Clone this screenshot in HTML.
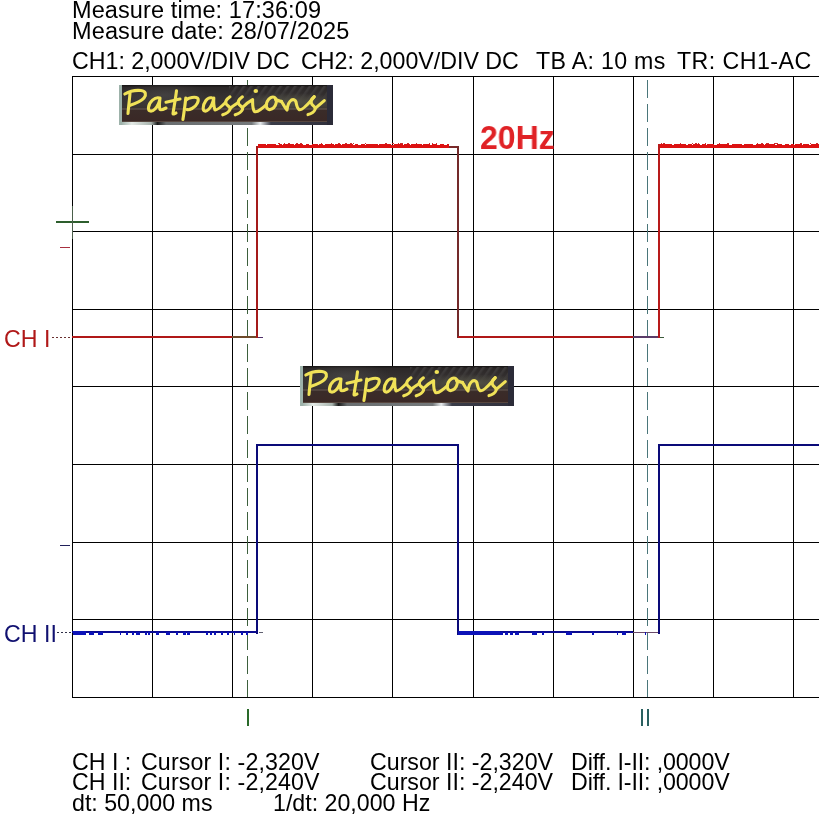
<!DOCTYPE html>
<html><head><meta charset="utf-8"><style>
html,body{margin:0;padding:0;background:#fff;width:821px;height:814px;overflow:hidden;position:relative;-webkit-font-smoothing:antialiased}
.t{position:absolute;font-family:"Liberation Sans",sans-serif;white-space:pre;line-height:1;will-change:transform}
</style></head><body>
<svg width="821" height="814" style="position:absolute;left:0;top:0" shape-rendering="crispEdges"><rect x="72" y="76" width="1" height="622" fill="#000"/><rect x="152" y="76" width="1" height="622" fill="#000"/><rect x="232" y="76" width="1" height="622" fill="#000"/><rect x="312" y="76" width="1" height="622" fill="#000"/><rect x="392" y="76" width="1" height="622" fill="#000"/><rect x="473" y="76" width="1" height="622" fill="#000"/><rect x="553" y="76" width="1" height="622" fill="#000"/><rect x="633" y="76" width="1" height="622" fill="#000"/><rect x="713" y="76" width="1" height="622" fill="#000"/><rect x="793" y="76" width="1" height="622" fill="#000"/><rect x="72" y="76" width="747" height="1" fill="#000"/><rect x="72" y="154" width="747" height="1" fill="#000"/><rect x="72" y="231" width="747" height="1" fill="#000"/><rect x="72" y="309" width="747" height="1" fill="#000"/><rect x="72" y="386" width="747" height="1" fill="#000"/><rect x="72" y="464" width="747" height="1" fill="#000"/><rect x="72" y="542" width="747" height="1" fill="#000"/><rect x="72" y="619" width="747" height="1" fill="#000"/><rect x="72" y="697" width="747" height="1" fill="#000"/><rect x="247" y="80" width="1" height="18" fill="#3d603d"/><rect x="247" y="104" width="1" height="18" fill="#3d603d"/><rect x="247" y="128" width="1" height="18" fill="#3d603d"/><rect x="247" y="152" width="1" height="18" fill="#3d603d"/><rect x="247" y="176" width="1" height="18" fill="#3d603d"/><rect x="247" y="200" width="1" height="18" fill="#3d603d"/><rect x="247" y="224" width="1" height="18" fill="#3d603d"/><rect x="247" y="248" width="1" height="18" fill="#3d603d"/><rect x="247" y="272" width="1" height="18" fill="#3d603d"/><rect x="247" y="296" width="1" height="18" fill="#3d603d"/><rect x="247" y="320" width="1" height="18" fill="#3d603d"/><rect x="247" y="344" width="1" height="18" fill="#3d603d"/><rect x="247" y="368" width="1" height="18" fill="#3d603d"/><rect x="247" y="392" width="1" height="18" fill="#3d603d"/><rect x="247" y="416" width="1" height="18" fill="#3d603d"/><rect x="247" y="440" width="1" height="18" fill="#3d603d"/><rect x="247" y="464" width="1" height="18" fill="#3d603d"/><rect x="247" y="488" width="1" height="18" fill="#3d603d"/><rect x="247" y="512" width="1" height="18" fill="#3d603d"/><rect x="247" y="536" width="1" height="18" fill="#3d603d"/><rect x="247" y="560" width="1" height="18" fill="#3d603d"/><rect x="247" y="584" width="1" height="18" fill="#3d603d"/><rect x="247" y="608" width="1" height="18" fill="#3d603d"/><rect x="247" y="632" width="1" height="18" fill="#3d603d"/><rect x="247" y="656" width="1" height="18" fill="#3d603d"/><rect x="247" y="680" width="1" height="17" fill="#3d603d"/><rect x="647" y="80" width="1" height="18" fill="#4a767a"/><rect x="647" y="104" width="1" height="18" fill="#4a767a"/><rect x="647" y="128" width="1" height="18" fill="#4a767a"/><rect x="647" y="152" width="1" height="18" fill="#4a767a"/><rect x="647" y="176" width="1" height="18" fill="#4a767a"/><rect x="647" y="200" width="1" height="18" fill="#4a767a"/><rect x="647" y="224" width="1" height="18" fill="#4a767a"/><rect x="647" y="248" width="1" height="18" fill="#4a767a"/><rect x="647" y="272" width="1" height="18" fill="#4a767a"/><rect x="647" y="296" width="1" height="18" fill="#4a767a"/><rect x="647" y="320" width="1" height="18" fill="#4a767a"/><rect x="647" y="344" width="1" height="18" fill="#4a767a"/><rect x="647" y="368" width="1" height="18" fill="#4a767a"/><rect x="647" y="392" width="1" height="18" fill="#4a767a"/><rect x="647" y="416" width="1" height="18" fill="#4a767a"/><rect x="647" y="440" width="1" height="18" fill="#4a767a"/><rect x="647" y="464" width="1" height="18" fill="#4a767a"/><rect x="647" y="488" width="1" height="18" fill="#4a767a"/><rect x="647" y="512" width="1" height="18" fill="#4a767a"/><rect x="647" y="536" width="1" height="18" fill="#4a767a"/><rect x="647" y="560" width="1" height="18" fill="#4a767a"/><rect x="647" y="584" width="1" height="18" fill="#4a767a"/><rect x="647" y="608" width="1" height="18" fill="#4a767a"/><rect x="647" y="632" width="1" height="18" fill="#4a767a"/><rect x="647" y="656" width="1" height="18" fill="#4a767a"/><rect x="647" y="680" width="1" height="17" fill="#4a767a"/><rect x="72" y="336" width="186" height="2" fill="#b01818"/><rect x="232" y="336" width="24" height="2" fill="#6e4a2a"/><rect x="258" y="337" width="5" height="1" fill="#50306a"/><rect x="256" y="146" width="2" height="192" fill="#a41a1a"/><rect x="258" y="145" width="191" height="3" fill="#dc1212"/><rect x="449" y="146" width="9" height="2" fill="#7a2a2a"/><rect x="457" y="146" width="2" height="192" fill="#742a2a"/><rect x="458" y="336" width="202" height="2" fill="#b01818"/><rect x="633" y="336" width="25" height="2" fill="#5a3c68"/><rect x="660" y="337" width="4" height="1" fill="#3a5a3a"/><rect x="658" y="144" width="2" height="194" fill="#b81a1a"/><rect x="660" y="145" width="159" height="3" fill="#dc1212"/><rect x="258" y="144" width="8" height="1" fill="#dc1212"/><rect x="267" y="144" width="9" height="1" fill="#dc1212"/><rect x="279" y="144" width="3" height="1" fill="#dc1212"/><rect x="283" y="144" width="11" height="1" fill="#dc1212"/><rect x="295" y="144" width="8" height="1" fill="#dc1212"/><rect x="306" y="144" width="3" height="1" fill="#dc1212"/><rect x="312" y="144" width="6" height="1" fill="#dc1212"/><rect x="319" y="144" width="4" height="1" fill="#dc1212"/><rect x="325" y="144" width="9" height="1" fill="#dc1212"/><rect x="335" y="144" width="6" height="1" fill="#dc1212"/><rect x="342" y="144" width="11" height="1" fill="#dc1212"/><rect x="355" y="144" width="3" height="1" fill="#dc1212"/><rect x="361" y="144" width="4" height="1" fill="#dc1212"/><rect x="366" y="144" width="12" height="1" fill="#dc1212"/><rect x="379" y="144" width="12" height="1" fill="#dc1212"/><rect x="394" y="144" width="9" height="1" fill="#dc1212"/><rect x="404" y="144" width="6" height="1" fill="#dc1212"/><rect x="411" y="144" width="11" height="1" fill="#dc1212"/><rect x="423" y="144" width="7" height="1" fill="#dc1212"/><rect x="432" y="144" width="5" height="1" fill="#dc1212"/><rect x="440" y="144" width="4" height="1" fill="#dc1212"/><rect x="447" y="144" width="2" height="1" fill="#dc1212"/><rect x="432" y="143" width="1" height="1" fill="#c83030"/><rect x="284" y="143" width="1" height="1" fill="#c83030"/><rect x="353" y="143" width="1" height="1" fill="#c83030"/><rect x="398" y="143" width="1" height="1" fill="#c83030"/><rect x="402" y="143" width="1" height="1" fill="#c83030"/><rect x="416" y="143" width="1" height="1" fill="#c83030"/><rect x="385" y="143" width="2" height="1" fill="#c83030"/><rect x="338" y="143" width="2" height="1" fill="#c83030"/><rect x="407" y="143" width="2" height="1" fill="#c83030"/><rect x="350" y="143" width="2" height="1" fill="#c83030"/><rect x="321" y="143" width="1" height="1" fill="#c83030"/><rect x="436" y="143" width="1" height="1" fill="#c83030"/><rect x="278" y="143" width="2" height="1" fill="#c83030"/><rect x="392" y="143" width="2" height="1" fill="#c83030"/><rect x="345" y="143" width="2" height="1" fill="#c83030"/><rect x="331" y="143" width="1" height="1" fill="#c83030"/><rect x="288" y="143" width="2" height="1" fill="#c83030"/><rect x="300" y="143" width="2" height="1" fill="#c83030"/><rect x="296" y="143" width="2" height="1" fill="#c83030"/><rect x="365" y="143" width="1" height="1" fill="#c83030"/><rect x="429" y="143" width="1" height="1" fill="#c83030"/><rect x="400" y="143" width="2" height="1" fill="#c83030"/><rect x="345" y="143" width="2" height="1" fill="#c83030"/><rect x="660" y="144" width="12" height="1" fill="#dc1212"/><rect x="674" y="144" width="12" height="1" fill="#dc1212"/><rect x="688" y="144" width="4" height="1" fill="#dc1212"/><rect x="693" y="144" width="7" height="1" fill="#dc1212"/><rect x="702" y="144" width="4" height="1" fill="#dc1212"/><rect x="707" y="144" width="7" height="1" fill="#dc1212"/><rect x="717" y="144" width="12" height="1" fill="#dc1212"/><rect x="732" y="144" width="10" height="1" fill="#dc1212"/><rect x="744" y="144" width="9" height="1" fill="#dc1212"/><rect x="756" y="144" width="8" height="1" fill="#dc1212"/><rect x="765" y="144" width="10" height="1" fill="#dc1212"/><rect x="777" y="144" width="5" height="1" fill="#dc1212"/><rect x="785" y="144" width="4" height="1" fill="#dc1212"/><rect x="791" y="144" width="3" height="1" fill="#dc1212"/><rect x="795" y="144" width="7" height="1" fill="#dc1212"/><rect x="803" y="144" width="6" height="1" fill="#dc1212"/><rect x="811" y="144" width="8" height="1" fill="#dc1212"/><rect x="680" y="143" width="1" height="1" fill="#c83030"/><rect x="774" y="143" width="2" height="1" fill="#c83030"/><rect x="800" y="143" width="2" height="1" fill="#c83030"/><rect x="695" y="143" width="2" height="1" fill="#c83030"/><rect x="800" y="143" width="2" height="1" fill="#c83030"/><rect x="766" y="143" width="2" height="1" fill="#c83030"/><rect x="757" y="143" width="1" height="1" fill="#c83030"/><rect x="698" y="143" width="1" height="1" fill="#c83030"/><rect x="705" y="143" width="1" height="1" fill="#c83030"/><rect x="719" y="143" width="1" height="1" fill="#c83030"/><rect x="663" y="143" width="2" height="1" fill="#c83030"/><rect x="810" y="143" width="1" height="1" fill="#c83030"/><rect x="727" y="143" width="2" height="1" fill="#c83030"/><rect x="661" y="143" width="1" height="1" fill="#c83030"/><rect x="767" y="143" width="2" height="1" fill="#c83030"/><rect x="816" y="143" width="2" height="1" fill="#c83030"/><rect x="692" y="143" width="1" height="1" fill="#c83030"/><rect x="776" y="143" width="2" height="1" fill="#c83030"/><rect x="761" y="143" width="2" height="1" fill="#c83030"/><rect x="72" y="631" width="186" height="2" fill="#0a0a90"/><rect x="73" y="631" width="13" height="4" fill="#0c12b8"/><rect x="256" y="444" width="2" height="190" fill="#0a0a78"/><rect x="258" y="444" width="200" height="2" fill="#0a0a78"/><rect x="457" y="444" width="2" height="191" fill="#0a0a78"/><rect x="458" y="631" width="175" height="2" fill="#0a0a90"/><rect x="458" y="631" width="42" height="4" fill="#0c12b8"/><rect x="633" y="632" width="26" height="1" fill="#6a4a6a"/><rect x="658" y="444" width="2" height="190" fill="#0a0a78"/><rect x="660" y="444" width="159" height="2" fill="#0a0a78"/><rect x="259" y="632" width="4" height="1" fill="#606070"/><rect x="89" y="632" width="5" height="3" fill="#0c12b8"/><rect x="98" y="632" width="5" height="3" fill="#0c12b8"/><rect x="120" y="632" width="1" height="3" fill="#0c12b8"/><rect x="126" y="632" width="2" height="3" fill="#0c12b8"/><rect x="132" y="632" width="2" height="3" fill="#0c12b8"/><rect x="136" y="632" width="4" height="3" fill="#0c12b8"/><rect x="145" y="632" width="2" height="3" fill="#0c12b8"/><rect x="148" y="632" width="2" height="3" fill="#0c12b8"/><rect x="156" y="632" width="3" height="3" fill="#0c12b8"/><rect x="166" y="632" width="4" height="3" fill="#0c12b8"/><rect x="176" y="632" width="2" height="3" fill="#0c12b8"/><rect x="183" y="632" width="3" height="3" fill="#0c12b8"/><rect x="187" y="632" width="3" height="3" fill="#0c12b8"/><rect x="206" y="632" width="2" height="3" fill="#0c12b8"/><rect x="210" y="632" width="2" height="3" fill="#0c12b8"/><rect x="214" y="632" width="2" height="3" fill="#0c12b8"/><rect x="221" y="632" width="2" height="3" fill="#0c12b8"/><rect x="227" y="632" width="2" height="3" fill="#0c12b8"/><rect x="234" y="632" width="1" height="3" fill="#0c12b8"/><rect x="241" y="632" width="2" height="3" fill="#0c12b8"/><rect x="246" y="632" width="2" height="3" fill="#0c12b8"/><rect x="500" y="632" width="3" height="3" fill="#0c12b8"/><rect x="505" y="632" width="3" height="3" fill="#0c12b8"/><rect x="510" y="632" width="3" height="3" fill="#0c12b8"/><rect x="515" y="632" width="4" height="3" fill="#0c12b8"/><rect x="532" y="632" width="5" height="3" fill="#0c12b8"/><rect x="542" y="632" width="2" height="3" fill="#0c12b8"/><rect x="566" y="632" width="6" height="3" fill="#0c12b8"/><rect x="592" y="632" width="2" height="3" fill="#0c12b8"/><rect x="617" y="632" width="1" height="3" fill="#0c12b8"/><rect x="622" y="632" width="4" height="3" fill="#0c12b8"/><rect x="645" y="632" width="1" height="3" fill="#0c12b8"/><rect x="56" y="221" width="33" height="2" fill="#2d5e2d"/><rect x="72" y="206" width="1" height="33" fill="#4a5e4a"/><rect x="60" y="247" width="10" height="1" fill="#a83040"/><rect x="60" y="545" width="10" height="1" fill="#20205a"/><rect x="52" y="337" width="2" height="1" fill="#6a3030"/><rect x="56" y="337" width="2" height="1" fill="#6a3030"/><rect x="60" y="337" width="2" height="1" fill="#6a3030"/><rect x="64" y="337" width="2" height="1" fill="#6a3030"/><rect x="68" y="337" width="2" height="1" fill="#6a3030"/><rect x="57" y="632" width="2" height="1" fill="#303048"/><rect x="61" y="632" width="2" height="1" fill="#303048"/><rect x="65" y="632" width="2" height="1" fill="#303048"/><rect x="69" y="632" width="2" height="1" fill="#303048"/><rect x="247" y="709" width="2" height="17" fill="#2a6a2a"/><rect x="641" y="709" width="2" height="17" fill="#2a6060"/><rect x="647" y="709" width="2" height="17" fill="#2a6060"/></svg>
<svg class="logo" width="214" height="40" viewBox="0 0 214 40" style="position:absolute;left:119px;top:85px">
<defs>
<linearGradient id="k1lgbg" x1="0" y1="0" x2="0" y2="1">
<stop offset="0" stop-color="#141212"/><stop offset="0.06" stop-color="#2c2828"/><stop offset="0.3" stop-color="#353131"/>
<stop offset="0.55" stop-color="#3a3532"/><stop offset="0.62" stop-color="#3a2c29"/>
<stop offset="1" stop-color="#3a2725"/></linearGradient>
<linearGradient id="k1lgbot" x1="0" y1="0" x2="1" y2="0">
<stop offset="0" stop-color="#8ea49c"/><stop offset="0.06" stop-color="#e4eae6"/><stop offset="0.15" stop-color="#a8b4ae"/>
<stop offset="0.18" stop-color="#1a1a1a"/><stop offset="0.22" stop-color="#6a6e70"/><stop offset="0.62" stop-color="#74787a"/>
<stop offset="0.66" stop-color="#e8ecee"/><stop offset="0.71" stop-color="#3a3c48"/><stop offset="1" stop-color="#30303c"/></linearGradient>
<radialGradient id="k1lgmid" cx="0.5" cy="0.5" r="0.5"><stop offset="0" stop-color="#5c5c4c" stop-opacity="0.75"/><stop offset="1" stop-color="#5c5c4c" stop-opacity="0"/></radialGradient>
<radialGradient id="k1lgtl" cx="0.5" cy="0.5" r="0.5"><stop offset="0" stop-color="#4a4848" stop-opacity="0.7"/><stop offset="1" stop-color="#4a4848" stop-opacity="0"/></radialGradient>
<pattern id="k1lgstr" width="6" height="6" patternUnits="userSpaceOnUse" patternTransform="rotate(35)"><rect width="2.5" height="6" fill="#484646"/></pattern>
<linearGradient id="k1lgfade" x1="0" y1="0" x2="0" y2="1"><stop offset="0" stop-color="#fff" stop-opacity="1"/><stop offset="1" stop-color="#fff" stop-opacity="0"/></linearGradient>
<mask id="k1lgmask"><rect x="0" y="0" width="214" height="22" fill="url(#k1lgfade)"/></mask>
</defs>
<rect x="0" y="0" width="214" height="40" fill="url(#k1lgbg)"/>
<rect x="110" y="1" width="98" height="22" fill="url(#k1lgstr)" opacity="0.7" mask="url(#k1lgmask)"/>
<ellipse cx="45" cy="10" rx="45" ry="14" fill="url(#k1lgtl)"/>
<ellipse cx="170" cy="17" rx="60" ry="9" fill="url(#k1lgmid)"/>
<rect x="3" y="23.5" width="205" height="1" fill="#8a8274" opacity="0.55"/>
<rect x="3" y="36" width="205" height="1" fill="#6a5a50" opacity="0.6"/>
<rect x="0" y="37" width="214" height="3" fill="url(#k1lgbot)"/>
<rect x="0" y="0" width="3" height="40" fill="#9db2aa"/>
<rect x="208" y="0" width="6" height="40" fill="#2b2b38"/>
<g fill="none" stroke="#f0e258" stroke-width="3.1" stroke-linecap="round" stroke-linejoin="round">
<path d="M5.8,9 C10,6.5 17,5 22,5.5 C27,6 27.5,10 25,13 C22,16.5 15,19 10.5,20.5"/>
<path d="M11,8 C10.5,15 9.5,22 9,28.5"/>
<path d="M40.5,13 C36,11.5 30,17 29.5,22.5 C29,27 33,27 36,24 C38.5,21.5 40.5,17 41,13 C40.5,17 40,22 41,24.5 C42,25.5 45,24 47,23"/>
<path d="M57.5,5.8 C56.5,14 55,22 54,28.5 C54,29.5 55.5,29 57,28"/>
<path d="M47,17.2 C52,16.2 57,14.8 61,14"/>
<path d="M66.8,13 C66,20 65,28 63.9,34.5"/>
<path d="M67,15 C70,12.5 76,11.5 78.5,13 C80.5,15 78,21 73,23.5 C71,24.5 69,25 68,24.5"/>
<path d="M92.5,12.8 C88,12 84.5,18 84.2,23 C84,26.5 87,27 89.5,24.5 C92,22 94,17 94.8,13 C94.5,17 94.8,22 96,24.8 C97.5,25.5 101,23 106.5,17.5"/>
<path d="M111,11.8 C108.5,13.5 106,16 107,18.5 C108,21 112,22 111,24.5 C110,27 106,29 103.7,29.8"/>
<path d="M111.5,23 C114,21 117,19 119.3,17.5"/>
<path d="M123.4,11.8 C121,13.5 118.5,16 119.5,18.5 C120.5,21 124.5,22 123.5,24.5 C122.5,27 118.5,29 116.2,29.8"/>
<path d="M124,22 C127,19 131,16 133.6,14.6 C133.5,19 133.5,24 135.5,26.5 C137,27.5 139.5,26 141.5,24.5 C143.5,23 145.5,21.5 147.5,19.5"/>
<ellipse cx="152.3" cy="18.3" rx="4.5" ry="6.7" transform="rotate(28 152.3 18.3)"/>
<path d="M156.5,14.5 C158.5,15.5 160.5,16 162.5,16.4"/>
<path d="M162.5,16.4 C164,19 166,23 168,25 C168.5,21 170,16.5 172.5,15 C174.5,14 176.5,15 177,17 C177.5,19.5 178,23 180,24.5 C182,25.5 186,23 195.2,11.7"/>
<path d="M195.2,11.7 C193,13.5 191.5,16 192.5,18.5 C193.5,21 197,21.5 196,24.5 C195,27 191.5,29 189,29.6"/>
<path d="M196.5,23 C199,21 202.5,18 205.3,15.6"/>
</g>
<ellipse cx="136.8" cy="6" rx="2.3" ry="1.9" fill="#f0e258"/>
</svg><svg class="logo" width="214" height="40" viewBox="0 0 214 40" style="position:absolute;left:300px;top:366px">
<defs>
<linearGradient id="k2lgbg" x1="0" y1="0" x2="0" y2="1">
<stop offset="0" stop-color="#141212"/><stop offset="0.06" stop-color="#2c2828"/><stop offset="0.3" stop-color="#353131"/>
<stop offset="0.55" stop-color="#3a3532"/><stop offset="0.62" stop-color="#3a2c29"/>
<stop offset="1" stop-color="#3a2725"/></linearGradient>
<linearGradient id="k2lgbot" x1="0" y1="0" x2="1" y2="0">
<stop offset="0" stop-color="#8ea49c"/><stop offset="0.06" stop-color="#e4eae6"/><stop offset="0.15" stop-color="#a8b4ae"/>
<stop offset="0.18" stop-color="#1a1a1a"/><stop offset="0.22" stop-color="#6a6e70"/><stop offset="0.62" stop-color="#74787a"/>
<stop offset="0.66" stop-color="#e8ecee"/><stop offset="0.71" stop-color="#3a3c48"/><stop offset="1" stop-color="#30303c"/></linearGradient>
<radialGradient id="k2lgmid" cx="0.5" cy="0.5" r="0.5"><stop offset="0" stop-color="#5c5c4c" stop-opacity="0.75"/><stop offset="1" stop-color="#5c5c4c" stop-opacity="0"/></radialGradient>
<radialGradient id="k2lgtl" cx="0.5" cy="0.5" r="0.5"><stop offset="0" stop-color="#4a4848" stop-opacity="0.7"/><stop offset="1" stop-color="#4a4848" stop-opacity="0"/></radialGradient>
<pattern id="k2lgstr" width="6" height="6" patternUnits="userSpaceOnUse" patternTransform="rotate(35)"><rect width="2.5" height="6" fill="#484646"/></pattern>
<linearGradient id="k2lgfade" x1="0" y1="0" x2="0" y2="1"><stop offset="0" stop-color="#fff" stop-opacity="1"/><stop offset="1" stop-color="#fff" stop-opacity="0"/></linearGradient>
<mask id="k2lgmask"><rect x="0" y="0" width="214" height="22" fill="url(#k2lgfade)"/></mask>
</defs>
<rect x="0" y="0" width="214" height="40" fill="url(#k2lgbg)"/>
<rect x="110" y="1" width="98" height="22" fill="url(#k2lgstr)" opacity="0.7" mask="url(#k2lgmask)"/>
<ellipse cx="45" cy="10" rx="45" ry="14" fill="url(#k2lgtl)"/>
<ellipse cx="170" cy="17" rx="60" ry="9" fill="url(#k2lgmid)"/>
<rect x="3" y="23.5" width="205" height="1" fill="#8a8274" opacity="0.55"/>
<rect x="3" y="36" width="205" height="1" fill="#6a5a50" opacity="0.6"/>
<rect x="0" y="37" width="214" height="3" fill="url(#k2lgbot)"/>
<rect x="0" y="0" width="3" height="40" fill="#9db2aa"/>
<rect x="208" y="0" width="6" height="40" fill="#2b2b38"/>
<g fill="none" stroke="#f0e258" stroke-width="3.1" stroke-linecap="round" stroke-linejoin="round">
<path d="M5.8,9 C10,6.5 17,5 22,5.5 C27,6 27.5,10 25,13 C22,16.5 15,19 10.5,20.5"/>
<path d="M11,8 C10.5,15 9.5,22 9,28.5"/>
<path d="M40.5,13 C36,11.5 30,17 29.5,22.5 C29,27 33,27 36,24 C38.5,21.5 40.5,17 41,13 C40.5,17 40,22 41,24.5 C42,25.5 45,24 47,23"/>
<path d="M57.5,5.8 C56.5,14 55,22 54,28.5 C54,29.5 55.5,29 57,28"/>
<path d="M47,17.2 C52,16.2 57,14.8 61,14"/>
<path d="M66.8,13 C66,20 65,28 63.9,34.5"/>
<path d="M67,15 C70,12.5 76,11.5 78.5,13 C80.5,15 78,21 73,23.5 C71,24.5 69,25 68,24.5"/>
<path d="M92.5,12.8 C88,12 84.5,18 84.2,23 C84,26.5 87,27 89.5,24.5 C92,22 94,17 94.8,13 C94.5,17 94.8,22 96,24.8 C97.5,25.5 101,23 106.5,17.5"/>
<path d="M111,11.8 C108.5,13.5 106,16 107,18.5 C108,21 112,22 111,24.5 C110,27 106,29 103.7,29.8"/>
<path d="M111.5,23 C114,21 117,19 119.3,17.5"/>
<path d="M123.4,11.8 C121,13.5 118.5,16 119.5,18.5 C120.5,21 124.5,22 123.5,24.5 C122.5,27 118.5,29 116.2,29.8"/>
<path d="M124,22 C127,19 131,16 133.6,14.6 C133.5,19 133.5,24 135.5,26.5 C137,27.5 139.5,26 141.5,24.5 C143.5,23 145.5,21.5 147.5,19.5"/>
<ellipse cx="152.3" cy="18.3" rx="4.5" ry="6.7" transform="rotate(28 152.3 18.3)"/>
<path d="M156.5,14.5 C158.5,15.5 160.5,16 162.5,16.4"/>
<path d="M162.5,16.4 C164,19 166,23 168,25 C168.5,21 170,16.5 172.5,15 C174.5,14 176.5,15 177,17 C177.5,19.5 178,23 180,24.5 C182,25.5 186,23 195.2,11.7"/>
<path d="M195.2,11.7 C193,13.5 191.5,16 192.5,18.5 C193.5,21 197,21.5 196,24.5 C195,27 191.5,29 189,29.6"/>
<path d="M196.5,23 C199,21 202.5,18 205.3,15.6"/>
</g>
<ellipse cx="136.8" cy="6" rx="2.3" ry="1.9" fill="#f0e258"/>
</svg>
<div class="t" id="t0" style="left:72px;top:-1px;font-size:23.5px;color:#000;letter-spacing:0.1px">Measure time: 17:36:09</div><div class="t" id="t1" style="left:72px;top:20px;font-size:23.5px;color:#000;letter-spacing:0.13px">Measure date: 28/07/2025</div><div class="t" id="t2" style="left:72px;top:50px;font-size:23.2px;color:#000;">CH1: 2,000V/DIV DC</div><div class="t" id="t3" style="left:301px;top:50px;font-size:23.2px;color:#000;">CH2: 2,000V/DIV DC</div><div class="t" id="t4" style="left:536px;top:50px;font-size:23.2px;color:#000;letter-spacing:0.3px">TB A: 10 ms</div><div class="t" id="t5" style="left:677px;top:50px;font-size:23.2px;color:#000;letter-spacing:0.45px">TR: CH1-AC</div><div class="t" id="t6" style="left:4px;top:328px;font-size:23.2px;color:#b01818;">CH I</div><div class="t" id="t7" style="left:4px;top:623px;font-size:23.2px;color:#101070;">CH II</div><div class="t" id="t8" style="left:72px;top:751px;font-size:23.2px;color:#000;">CH I :</div><div class="t" id="t9" style="left:141px;top:751px;font-size:23.2px;color:#000;letter-spacing:0.12px">Cursor I: -2,320V</div><div class="t" id="t10" style="left:370px;top:751px;font-size:23.2px;color:#000;">Cursor II: -2,320V</div><div class="t" id="t11" style="left:571px;top:751px;font-size:23.2px;color:#000;letter-spacing:-0.12px">Diff. I-II: ,0000V</div><div class="t" id="t12" style="left:72px;top:771px;font-size:23.2px;color:#000;">CH II:</div><div class="t" id="t13" style="left:141px;top:771px;font-size:23.2px;color:#000;letter-spacing:0.12px">Cursor I: -2,240V</div><div class="t" id="t14" style="left:370px;top:771px;font-size:23.2px;color:#000;">Cursor II: -2,240V</div><div class="t" id="t15" style="left:571px;top:771px;font-size:23.2px;color:#000;letter-spacing:-0.12px">Diff. I-II: ,0000V</div><div class="t" id="t16" style="left:72px;top:792px;font-size:23.2px;color:#000;">dt: 50,000 ms</div><div class="t" id="t17" style="left:273px;top:792px;font-size:23.2px;color:#000;">1/dt: 20,000 Hz</div><div class="t" id="hz" style="left:480px;top:121px;font-size:33px;font-weight:bold;color:#e02226;transform:scaleX(0.97);transform-origin:0 0">20Hz</div>
</body></html>
